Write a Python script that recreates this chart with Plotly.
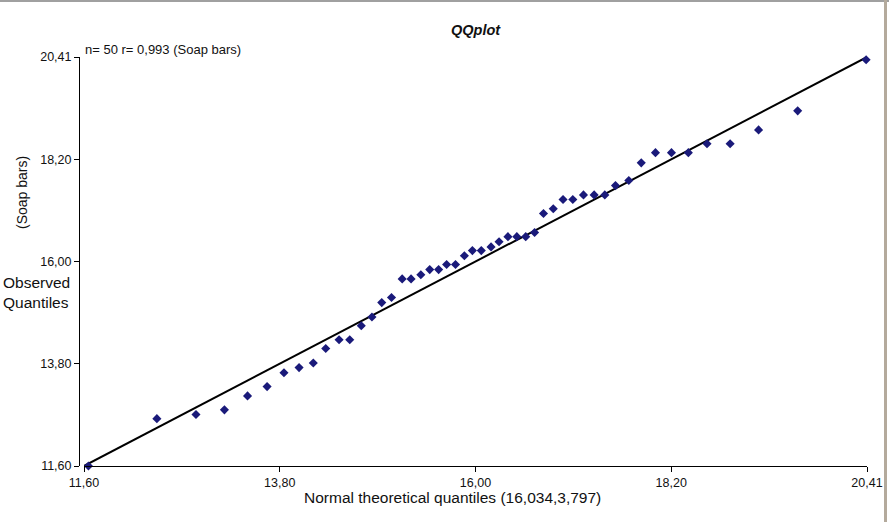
import plotly.graph_objects as go

# Theoretical (x) and observed (y) quantiles
theoretical = [11.65, 12.42, 12.86, 13.18, 13.44, 13.66, 13.85, 14.02, 14.18, 14.32,
               14.47, 14.59, 14.72, 14.84, 14.95, 15.06, 15.18, 15.28, 15.39, 15.49,
               15.59, 15.68, 15.78, 15.88, 15.97, 16.07, 16.18, 16.27, 16.37, 16.47,
               16.57, 16.67, 16.77, 16.88, 16.99, 17.10, 17.22, 17.34, 17.46, 17.58,
               17.73, 17.87, 18.03, 18.21, 18.40, 18.61, 18.87, 19.19, 19.63, 20.40]
observed = [11.60, 12.62, 12.71, 12.81, 13.11, 13.31, 13.61, 13.72, 13.82, 14.13,
            14.32, 14.32, 14.62, 14.81, 15.12, 15.23, 15.63, 15.63, 15.72, 15.83,
            15.83, 15.94, 15.94, 16.13, 16.24, 16.24, 16.32, 16.43, 16.54, 16.54,
            16.54, 16.63, 17.04, 17.14, 17.34, 17.34, 17.44, 17.44, 17.44, 17.64,
            17.75, 18.13, 18.35, 18.35, 18.35, 18.54, 18.54, 18.84, 19.25, 20.35]

ref_line = [11.60, 20.41]
tick_vals = [11.60, 13.8025, 16.005, 18.2075, 20.41]
tick_text = ["11,60", "13,80", "16,00", "18,20", "20,41"]

FONT = "Liberation Sans, Arial, sans-serif"

fig = go.Figure()
fig.add_trace(go.Scatter(x=ref_line, y=ref_line, mode="lines",
                         line=dict(color="black", width=2), hoverinfo="skip",
                         showlegend=False))
fig.add_trace(go.Scatter(x=theoretical, y=observed, mode="markers", cliponaxis=False,
                         marker=dict(symbol="diamond", size=7, color="#1a1a7a",
                                     line=dict(width=0)),
                         showlegend=False))

L, R, T, B = 79, 22, 57, 56
W, H = 889, 522
pw = W - L - R
ph = H - T - B

def px(x):
    return (x - L) / pw

def py(y):
    return (H - B - y) / ph

axis_common = dict(showgrid=False, zeroline=False, showline=True, linecolor="black",
                   linewidth=1, ticks="outside", ticklen=5, tickcolor="black",
                   tickmode="array", tickvals=tick_vals, ticktext=tick_text,
                   tickfont=dict(family=FONT, size=12.5, color="#111"),
                   range=[11.60, 20.41], automargin=False)

fig.update_layout(
    width=W, height=H, autosize=False,
    margin=dict(l=L, r=R, t=T, b=B, autoexpand=False),
    paper_bgcolor="white", plot_bgcolor="white",
    xaxis=dict(domain=[(84 - L) / pw, 1], **axis_common),
    yaxis=dict(anchor="free", position=0, **axis_common),
    annotations=[
        dict(text="<b><i>QQplot</i></b>", x=px(476), y=py(30), xref="paper", yref="paper",
             showarrow=False, xanchor="center", yanchor="middle",
             font=dict(family=FONT, size=14.5, color="#111")),
        dict(text="n= 50 r= 0,993 (Soap bars)", x=px(83), y=py(50), xref="paper", yref="paper",
             showarrow=False, xanchor="left", yanchor="middle",
             font=dict(family=FONT, size=13, color="#111")),
        dict(text="Normal theoretical quantiles (16,034,3,797)", x=px(452.5), y=py(498),
             xref="paper", yref="paper", showarrow=False, xanchor="center", yanchor="middle",
             font=dict(family=FONT, size=15.5, color="#111")),
        dict(text="Observed<br>Quantiles", x=px(36.5), y=py(292), xref="paper", yref="paper",
             showarrow=False, xanchor="center", yanchor="middle", align="left",
             font=dict(family=FONT, size=15.5, color="#111")),
        dict(text="(Soap bars)", x=px(21.5), y=py(192.5), xref="paper", yref="paper",
             showarrow=False, xanchor="center", yanchor="middle", textangle=-90,
             font=dict(family=FONT, size=14, color="#111")),
    ],
    shapes=[
        dict(type="line", xref="paper", yref="paper", x0=px(0), x1=px(W), y0=py(1), y1=py(1),
             line=dict(color="#a0a0a0", width=2)),
        dict(type="line", xref="paper", yref="paper", x0=px(885.5), x1=px(885.5), y0=py(0), y1=py(H),
             line=dict(color="#b4aa9c", width=3)),
    ],
)

fig.write_html("out.html",
               config={"responsive": False, "displayModeBar": False},
               post_script="document.body.style.margin='0';document.body.style.overflow='hidden';")
